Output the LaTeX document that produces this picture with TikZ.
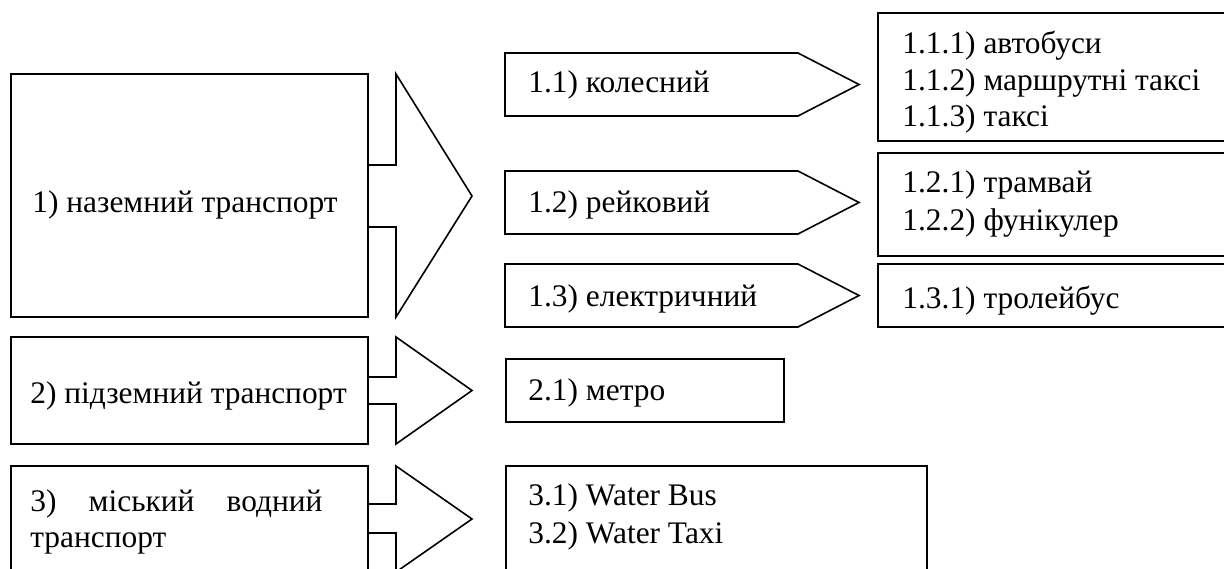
\documentclass[tikz,border=0pt]{standalone}
\usepackage{fontspec}
\setmainfont{Liberation Serif}
\begin{document}
\begin{tikzpicture}[x=0.5pt,y=-0.5pt,
  shapeline/.style={draw=black,line width=0.8pt,line join=miter},
  boxline/.style={draw=black,line width=1.1pt},
  txt/.style={anchor=base west,inner sep=0pt,font=\fontsize{15.7}{18}\selectfont}]
\useasboundingbox (0,0) rectangle (1224,568);
\clip (0,0) rectangle (1224,568);
% left boxes with block arrows
\draw[shapeline] (11,74) rectangle (368,317);
\draw[shapeline] (368,165) -- (396,165) -- (396,74) -- (472,196) -- (396,317) -- (396,227) -- (368,227);
\draw[shapeline] (11,337) rectangle (368,444);
\draw[shapeline] (368,377) -- (396,377) -- (396,337) -- (472,390.5) -- (396,444) -- (396,404) -- (368,404);
\draw[shapeline] (11,600) -- (11,466) -- (368,466) -- (368,600);
\draw[shapeline] (368,504) -- (396,504) -- (396,466) -- (472,519) -- (396,572) -- (396,533) -- (368,533);
% pentagons
\draw[shapeline] (505,53) -- (798,53) -- (859,84.5) -- (798,116) -- (505,116) -- cycle;
\draw[shapeline] (505,171) -- (798,171) -- (859,202.5) -- (798,234) -- (505,234) -- cycle;
\draw[shapeline] (505,264) -- (798,264) -- (859,295.5) -- (798,327) -- (505,327) -- cycle;
% right boxes
\draw[boxline] (1240,13) -- (878,13) -- (878,141) -- (1240,141);
\draw[boxline] (1240,153) -- (878,153) -- (878,256) -- (1240,256);
\draw[boxline] (1240,264) -- (878,264) -- (878,327) -- (1240,327);
\draw[boxline] (506,359) rectangle (784,422);
\draw[boxline] (506,600) -- (506,466) -- (927,466) -- (927,600);
% texts
\node[txt] (t1) at (32,212) {1) наземний транспорт};
\node[txt] (t2) at (30,403) {2) підземний транспорт};
\node[txt] (t3a) at (30,511) {\makebox[146pt][s]{3) міський водний}};
\node[txt] (t3b) at (30,547) {транспорт};
\node[txt] (t11) at (528,92) {1.1) колесний};
\node[txt] (t12) at (528,212) {1.2) рейковий};
\node[txt] (t13) at (528,306) {1.3) електричний};
\node[txt] (t111) at (902,53) {1.1.1) автобуси};
\node[txt] (t112) at (902,90) {1.1.2) маршрутні таксі};
\node[txt] (t113) at (902,126) {1.1.3) таксі};
\node[txt] (t121) at (902,192) {1.2.1) трамвай};
\node[txt] (t122) at (902,230) {1.2.2) фунікулер};
\node[txt] (t131) at (902,308) {1.3.1) тролейбус};
\node[txt] (t21) at (528,400) {2.1) метро};
\node[txt] (t31) at (528,505) {3.1) Water Bus};
\node[txt] (t32) at (528,543) {3.2) Water Taxi};
\end{tikzpicture}
\end{document}
